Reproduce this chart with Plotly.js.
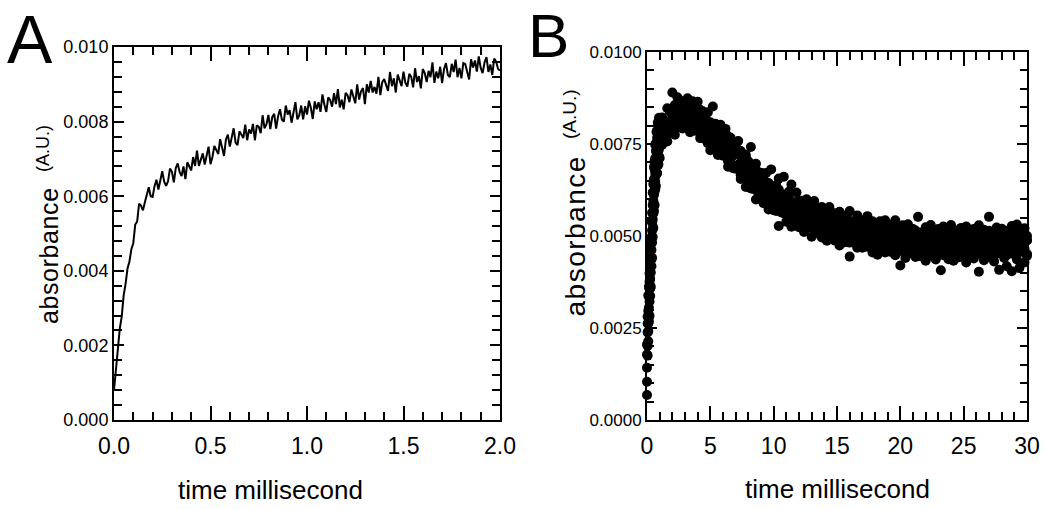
<!DOCTYPE html>
<html>
<head>
<meta charset="utf-8">
<script src="https://cdn.plot.ly/plotly-3.0.1.min.js"></script>
<style>
html,body{margin:0;padding:0;background:#fff;}
#chart{width:1050px;height:509px;}
.annotation[data-index="4"] .annotation-text{letter-spacing:0.6px;}
.annotation[data-index="6"] .annotation-text{letter-spacing:1.5px;}
</style>
</head>
<body>
<div id="chart"></div>
<script>
// ---------- Panel A: absorbance vs time (0-2 ms), line trace ----------
const timeA = [0,0.01,0.02,0.03,0.04,0.05,0.06,0.07,0.08,0.09,
0.1,0.11,0.12,0.13,0.14,0.15,0.16,0.17,0.18,0.19,
0.2,0.21,0.22,0.23,0.24,0.25,0.26,0.27,0.28,0.29,
0.3,0.31,0.32,0.33,0.34,0.35,0.36,0.37,0.38,0.39,
0.4,0.41,0.42,0.43,0.44,0.45,0.46,0.47,0.48,0.49,
0.5,0.51,0.52,0.53,0.54,0.55,0.56,0.57,0.58,0.59,
0.6,0.61,0.62,0.63,0.64,0.65,0.66,0.67,0.68,0.69,
0.7,0.71,0.72,0.73,0.74,0.75,0.76,0.77,0.78,0.79,
0.8,0.81,0.82,0.83,0.84,0.85,0.86,0.87,0.88,0.89,
0.9,0.91,0.92,0.93,0.94,0.95,0.96,0.97,0.98,0.99,
1,1.01,1.02,1.03,1.04,1.05,1.06,1.07,1.08,1.09,
1.1,1.11,1.12,1.13,1.14,1.15,1.16,1.17,1.18,1.19,
1.2,1.21,1.22,1.23,1.24,1.25,1.26,1.27,1.28,1.29,
1.3,1.31,1.32,1.33,1.34,1.35,1.36,1.37,1.38,1.39,
1.4,1.41,1.42,1.43,1.44,1.45,1.46,1.47,1.48,1.49,
1.5,1.51,1.52,1.53,1.54,1.55,1.56,1.57,1.58,1.59,
1.6,1.61,1.62,1.63,1.64,1.65,1.66,1.67,1.68,1.69,
1.7,1.71,1.72,1.73,1.74,1.75,1.76,1.77,1.78,1.79,
1.8,1.81,1.82,1.83,1.84,1.85,1.86,1.87,1.88,1.89,
1.9,1.91,1.92,1.93,1.94,1.95,1.96,1.97,1.98,1.99,
2];
const absorbanceA = [0.0008,0.00143,0.00196,0.00245,0.00277,0.00334,0.00365,0.00406,0.00425,0.00458,
0.00474,0.00524,0.00532,0.0058,0.00575,0.00562,0.00584,0.00607,0.00624,0.006,
0.00598,0.00627,0.00644,0.00618,0.00645,0.00667,0.00639,0.00628,0.0064,0.00674,
0.00666,0.00637,0.00675,0.00688,0.00665,0.00654,0.0068,0.00646,0.00691,0.00682,
0.00669,0.00705,0.00681,0.00722,0.00681,0.00698,0.00715,0.00685,0.00713,0.00733,
0.00686,0.00705,0.00735,0.00724,0.00713,0.00753,0.00728,0.00708,0.00752,0.00765,
0.00733,0.00757,0.00782,0.00744,0.00737,0.00774,0.00763,0.00756,0.00792,0.0075,
0.00779,0.00768,0.00794,0.0075,0.0079,0.00786,0.00769,0.00817,0.00782,0.00793,
0.00818,0.0078,0.00812,0.00821,0.00781,0.00814,0.00833,0.00805,0.008,0.00843,
0.00819,0.00831,0.00797,0.00827,0.00852,0.00806,0.00817,0.00843,0.00806,0.00841,
0.00819,0.00856,0.00837,0.00807,0.00854,0.00833,0.00852,0.00826,0.00873,0.00846,
0.00826,0.00865,0.00858,0.0084,0.00876,0.00847,0.00887,0.00838,0.00859,0.00833,
0.00877,0.00871,0.00852,0.00886,0.00864,0.00849,0.009,0.00859,0.00881,0.0089,
0.00847,0.009,0.00878,0.00909,0.00878,0.00893,0.00875,0.0092,0.00871,0.00906,
0.00914,0.00898,0.00882,0.00933,0.00895,0.00916,0.00878,0.00926,0.0091,0.00895,
0.00934,0.00904,0.00894,0.00928,0.0092,0.00892,0.00943,0.00906,0.00922,0.00889,
0.00941,0.0093,0.00906,0.00936,0.00919,0.00959,0.00904,0.00934,0.00916,0.00947,
0.00903,0.00941,0.00957,0.00925,0.00919,0.00955,0.00933,0.00966,0.00919,0.00944,
0.00916,0.00957,0.00954,0.00933,0.00913,0.00967,0.00945,0.00964,0.00934,0.00975,
0.00944,0.0093,0.00959,0.00973,0.00933,0.00953,0.00925,0.00969,0.00961,0.00941,
0.00937];

// ---------- Panel B: absorbance vs time (0-30 ms), scatter of many points ----------
const timeB = [0,0.05,0.1,0.15,0.2,0.25,0.3,0.35,0.4,0.45,0.5,0.55,0.6,0.65,0.7,0.75,0.8,0.85,0.9,0.95,1,
1.2,1.4,1.6,1.8,2,2.2,2.4,2.6,2.8,3,
3.2,3.4,3.6,3.8,4,4.2,4.4,4.6,4.8,5,
5.2,5.4,5.6,5.8,6,6.2,6.4,6.6,6.8,7,
7.2,7.4,7.6,7.8,8,8.2,8.4,8.6,8.8,9,
9.2,9.4,9.6,9.8,10,10.2,10.4,10.6,10.8,11,
11.2,11.4,11.6,11.8,12,12.2,12.4,12.6,12.8,13,
13.2,13.4,13.6,13.8,14,14.2,14.4,14.6,14.8,15,
15.2,15.4,15.6,15.8,16,16.2,16.4,16.6,16.8,17,
17.2,17.4,17.6,17.8,18,18.2,18.4,18.6,18.8,19,
19.2,19.4,19.6,19.8,20,20.2,20.4,20.6,20.8,21,
21.2,21.4,21.6,21.8,22,22.2,22.4,22.6,22.8,23,
23.2,23.4,23.6,23.8,24,24.2,24.4,24.6,24.8,25,
25.2,25.4,25.6,25.8,26,26.2,26.4,26.6,26.8,27,
27.2,27.4,27.6,27.8,28,28.2,28.4,28.6,28.8,29,
29.2,29.4,29.6,29.8,30];
// five readings across the noisy band at each time, from lowest to highest
const absorbanceB_1 = [0.00068,0.00175,0.00214,0.00268,0.00283,0.00337,0.00362,0.00418,0.00441,0.00497,0.00522,0.00568,0.00584,0.00627,0.00636,0.00668,0.00671,0.00697,0.00694,0.00716,0.00712,
0.00748,0.00775,0.00757,0.00783,0.00797,0.00775,0.00803,0.00814,0.00792,0.00801,
0.00811,0.00782,0.00802,0.00786,0.00801,0.00766,0.00773,0.00779,0.00752,0.00733,
0.00756,0.00744,0.0072,0.00743,0.00718,0.0072,0.00688,0.00709,0.00684,0.00683,
0.00693,0.00655,0.00662,0.00633,0.00653,0.00629,0.00634,0.00599,0.00613,0.0062,
0.00589,0.00596,0.00572,0.00592,0.0057,0.00576,0.00527,0.00564,0.00567,0.00539,
0.00546,0.00525,0.00548,0.00538,0.00524,0.00545,0.00511,0.00522,0.00528,0.00498,
0.00525,0.00508,0.00524,0.00496,0.00508,0.00487,0.00507,0.00517,0.00488,0.00494,
0.00474,0.00502,0.00483,0.00496,0.00444,0.00488,0.00496,0.00468,0.00481,0.00468,
0.00492,0.00471,0.00483,0.00455,0.00476,0.00449,0.0048,0.00465,0.00455,0.00475,
0.00457,0.00479,0.00448,0.00463,0.0042,0.00466,0.0044,0.00469,0.00454,0.0046,
0.00443,0.00468,0.00445,0.00454,0.00433,0.00462,0.00446,0.00466,0.00436,0.00457,
0.00407,0.00454,0.00467,0.00437,0.00451,0.00433,0.00458,0.00442,0.00462,0.00446,
0.00428,0.0046,0.00455,0.00439,0.00449,0.00403,0.00464,0.00434,0.00456,0.00443,
0.00461,0.00431,0.00452,0.00408,0.00459,0.0044,0.00418,0.00454,0.00404,0.0045,
0.00436,0.00413,0.00457,0.00428,0.00451];
const absorbanceB_2 = [0.00104,0.00201,0.00241,0.00282,0.00322,0.00358,0.00401,0.00436,0.00482,0.00519,0.00561,0.00586,0.00622,0.00647,0.00673,0.00692,0.00708,0.00716,0.00731,0.00737,0.00748,
0.00779,0.00783,0.00774,0.00812,0.00802,0.00817,0.00796,0.00827,0.00811,0.00818,
0.00834,0.00804,0.00816,0.0079,0.00812,0.00789,0.00796,0.00763,0.00778,0.00786,
0.00754,0.00762,0.00737,0.00758,0.00735,0.00738,0.00703,0.0072,0.0072,0.00689,
0.00692,0.00665,0.00684,0.00668,0.0065,0.00667,0.00628,0.00634,0.00635,0.00601,
0.00625,0.00603,0.00616,0.00583,0.00592,0.00568,0.00586,0.00591,0.00562,0.00565,
0.00543,0.0057,0.00548,0.0056,0.00528,0.00549,0.00555,0.00527,0.00538,0.00524,
0.00546,0.00525,0.00535,0.00507,0.00526,0.00499,0.00529,0.00513,0.00502,0.00521,
0.00502,0.00523,0.00492,0.00506,0.00482,0.00507,0.00481,0.00508,0.00493,0.00498,
0.00481,0.00504,0.00481,0.00488,0.00467,0.00495,0.00478,0.00497,0.00467,0.00487,
0.0046,0.00482,0.00494,0.00464,0.00477,0.00458,0.00482,0.00466,0.00485,0.00468,
0.00451,0.00481,0.00475,0.00459,0.00468,0.00449,0.00482,0.00452,0.00473,0.0046,
0.00478,0.00448,0.00468,0.00446,0.00475,0.00456,0.00446,0.0047,0.00446,0.00466,
0.00452,0.00446,0.00473,0.00446,0.00467,0.00459,0.00476,0.0045,0.00467,0.00473,
0.00446,0.0047,0.00479,0.00455,0.00464,0.00475,0.00448,0.00471,0.00461,0.00482,
0.00453,0.00466,0.00478,0.00457,0.00446];
const absorbanceB_3 = [0.00142,0.00238,0.00262,0.00305,0.00356,0.00384,0.00438,0.00462,0.00515,0.00545,0.00596,0.00612,0.00657,0.00672,0.00708,0.00715,0.00741,0.00739,0.00762,0.00758,0.00781,
0.00783,0.00811,0.00792,0.00808,0.00826,0.00807,0.00842,0.00831,0.00824,0.00851,
0.0082,0.00833,0.00811,0.00831,0.0081,0.00823,0.00795,0.00777,0.00798,0.00784,
0.00795,0.00759,0.0077,0.00749,0.00772,0.00738,0.00722,0.0074,0.00719,0.00722,
0.00689,0.00699,0.00678,0.00695,0.00665,0.00684,0.00643,0.0065,0.00651,0.00623,
0.00634,0.00604,0.00628,0.00605,0.00623,0.00589,0.0061,0.00576,0.00586,0.00574,
0.00586,0.00558,0.00576,0.00564,0.0058,0.00548,0.0056,0.00538,0.00564,0.0054,
0.00565,0.00538,0.00521,0.00549,0.00532,0.00548,0.00521,0.00535,0.00513,0.00527,
0.00543,0.00509,0.00513,0.00527,0.00515,0.00534,0.00497,0.00525,0.00502,0.00513,
0.00494,0.00522,0.005,0.00522,0.0049,0.00508,0.00518,0.00491,0.00516,0.00493,
0.00506,0.00513,0.00483,0.00511,0.00487,0.00494,0.00476,0.00502,0.00484,0.00477,
0.00503,0.00479,0.00469,0.00493,0.00483,0.00472,0.00498,0.00475,0.00484,0.00463,
0.00492,0.00479,0.00466,0.00487,0.005,0.0047,0.00476,0.00493,0.00464,0.00482,
0.00472,0.00497,0.00468,0.00486,0.00479,0.00461,0.0049,0.00475,0.00495,0.00467,
0.00484,0.00471,0.00499,0.00477,0.00463,0.00488,0.00474,0.00492,0.00465,0.00481,
0.0047,0.005,0.00473,0.00466,0.00489];
const absorbanceB_4 = [0.00178,0.00262,0.00296,0.00338,0.00376,0.00421,0.00463,0.00497,0.00537,0.00584,0.00617,0.00654,0.00682,0.00711,0.00731,0.00748,0.00766,0.00772,0.00786,0.00792,0.00802,
0.00819,0.00806,0.00801,0.00839,0.00833,0.00856,0.00835,0.00853,0.00835,0.00851,
0.00866,0.00834,0.00836,0.00846,0.0083,0.00843,0.00803,0.00827,0.00799,0.00806,
0.00781,0.00805,0.00777,0.00793,0.00757,0.00768,0.00771,0.00739,0.00756,0.00728,
0.00734,0.00731,0.00696,0.00714,0.00685,0.00686,0.00661,0.0068,0.00655,0.00642,
0.00663,0.00632,0.00617,0.00634,0.00619,0.00603,0.00626,0.00598,0.00604,0.00578,
0.00603,0.00587,0.00571,0.00589,0.00596,0.00565,0.00568,0.00583,0.00551,0.00566,
0.00553,0.00576,0.00544,0.0056,0.0055,0.00531,0.00557,0.0054,0.00558,0.00528,
0.00543,0.00528,0.00554,0.00531,0.00515,0.00538,0.00523,0.00539,0.00511,0.00525,
0.00513,0.00539,0.00513,0.00504,0.00526,0.00514,0.0053,0.00502,0.00508,0.00517,
0.00492,0.00522,0.00508,0.00498,0.00524,0.00493,0.00507,0.00488,0.00513,0.00497,
0.00515,0.00493,0.00482,0.00507,0.00498,0.00516,0.00485,0.00503,0.00487,0.00515,
0.00491,0.00482,0.00507,0.00493,0.00504,0.00479,0.00498,0.00485,0.00511,0.00489,
0.00514,0.00482,0.00496,0.00505,0.00484,0.00501,0.00478,0.00508,0.00492,0.00514,
0.00487,0.00512,0.00483,0.00497,0.0049,0.00506,0.00481,0.00503,0.00494,0.00514,
0.00485,0.005,0.0048,0.00509,0.00488];
const absorbanceB_5 = [0.00205,0.00281,0.00338,0.00362,0.00398,0.00455,0.00482,0.00541,0.00563,0.00618,0.00641,0.00688,0.00703,0.00748,0.00752,0.00783,0.00786,0.00808,0.00805,0.00821,0.00818,
0.00822,0.00809,0.00847,0.0084,0.0089,0.00848,0.00877,0.0085,0.00866,0.00859,
0.00874,0.00847,0.00866,0.00851,0.00865,0.0083,0.00839,0.00813,0.00836,0.00809,
0.00852,0.00799,0.00778,0.00802,0.00781,0.00791,0.00759,0.00767,0.0074,0.00748,
0.00758,0.00717,0.00714,0.00721,0.00703,0.00742,0.00673,0.00696,0.00666,0.00672,
0.00648,0.00671,0.00644,0.00681,0.00624,0.00638,0.00656,0.00615,0.00661,0.0061,
0.0062,0.0064,0.00592,0.00618,0.00591,0.00596,0.00576,0.006,0.0058,0.00571,
0.00595,0.00569,0.00557,0.00579,0.00567,0.00554,0.00579,0.00554,0.00562,0.00539,
0.00566,0.00551,0.00538,0.00557,0.00568,0.00536,0.00541,0.00556,0.00526,0.00542,
0.00531,0.00554,0.00524,0.0054,0.00532,0.00513,0.0054,0.00524,0.00543,0.00514,
0.0053,0.00516,0.00543,0.0052,0.00505,0.00529,0.00514,0.00532,0.00504,0.00519,
0.00507,0.00552,0.00509,0.00502,0.00524,0.00513,0.0053,0.00503,0.00509,0.00519,
0.00495,0.00526,0.00512,0.00503,0.0053,0.005,0.00515,0.00496,0.00522,0.00507,
0.00526,0.00504,0.00492,0.00519,0.00511,0.00529,0.00499,0.00517,0.00502,0.00552,
0.00506,0.00497,0.00523,0.00509,0.0052,0.00495,0.00514,0.00501,0.00527,0.00505,
0.00531,0.00498,0.00512,0.00521,0.005];

// ---------- Text ----------
const panelLabels = ['A', 'B'];
const xTitle = 'time millisecond';
const yTitleMain = 'absorbance';
const yTitleUnit = '(A.U.)';

const W = 1050, H = 509;
const px = v => v / W;
const py = v => 1 - v / H;
const FONT = '"Liberation Sans", Arial, Helvetica, sans-serif';

const bandY = [absorbanceB_1, absorbanceB_2, absorbanceB_3, absorbanceB_4, absorbanceB_5];

const traces = [
  {
    x: timeA, y: absorbanceA, xaxis: 'x', yaxis: 'y',
    type: 'scatter', mode: 'lines',
    line: {color: '#000', width: 2},
    hoverinfo: 'skip'
  },
  {
    x: [].concat(...bandY.map(() => timeB)),
    y: [].concat(...bandY),
    xaxis: 'x2', yaxis: 'y2',
    type: 'scatter', mode: 'markers',
    marker: {color: '#000', size: 10, line: {width: 0}},
    cliponaxis: false,
    hoverinfo: 'skip'
  }
];

function axisBase(extra) {
  return Object.assign({
    showline: true, linecolor: '#000', linewidth: 2, mirror: 'allticks',
    ticks: 'inside', tickcolor: '#000', tickwidth: 2,
    showgrid: false, zeroline: false, fixedrange: true,
    tickfont: {family: FONT, color: '#000'}
  }, extra);
}

const layout = {
  width: W, height: H,
  margin: {l: 0, r: 0, t: 0, b: 0},
  paper_bgcolor: '#fff', plot_bgcolor: '#fff',
  showlegend: false,
  font: {family: FONT, color: '#000'},
  xaxis: axisBase({
    domain: [px(114), px(500)], anchor: 'y', range: [0, 2],
    tick0: 0, dtick: 0.5, tickformat: '.1f', ticklen: 14, ticklabelstandoff: 4,
    tickfont: {family: FONT, color: '#000', size: 23},
    minor: {dtick: 0.1, ticklen: 8, tickwidth: 2, tickcolor: '#000', ticks: 'inside'}
  }),
  yaxis: axisBase({
    domain: [1 - 420 / H, 1 - 47 / H], anchor: 'x', range: [0, 0.010],
    tick0: 0, dtick: 0.002, tickformat: '.3f', ticklen: 10,
    tickfont: {family: FONT, color: '#000', size: 18},
    minor: {dtick: 0.0004, ticklen: 8, tickwidth: 2, tickcolor: '#000', ticks: 'inside'}
  }),
  xaxis2: axisBase({
    domain: [px(647), px(1027)], anchor: 'y2', range: [0, 30],
    tick0: 0, dtick: 5, tickformat: 'd', ticklen: 14, ticklabelstandoff: 4,
    tickfont: {family: FONT, color: '#000', size: 23},
    minor: {dtick: 1, ticklen: 8, tickwidth: 2, tickcolor: '#000', ticks: 'inside'}
  }),
  yaxis2: axisBase({
    domain: [1 - 420 / H, 1 - 52 / H], anchor: 'x2', range: [0, 0.0100],
    tick0: 0, dtick: 0.0025, tickformat: '.4f', ticklen: 10,
    tickfont: {family: FONT, color: '#000', size: 17},
    minor: {dtick: 0.0005, ticklen: 7, tickwidth: 2, tickcolor: '#000', ticks: 'inside'}
  }),
  annotations: [
    {text: panelLabels[0], x: px(30), y: 1, xref: 'paper', yref: 'paper', showarrow: false,
     xanchor: 'center', yanchor: 'top', borderpad: 0, font: {family: FONT, size: 68, color: '#000'}},
    {text: panelLabels[1], x: px(548), y: 1, xref: 'paper', yref: 'paper', showarrow: false,
     xanchor: 'center', yanchor: 'top', borderpad: 0, font: {family: FONT, size: 62, color: '#000'}},
    {text: xTitle, x: px(270), y: py(490), xref: 'paper', yref: 'paper', showarrow: false,
     xanchor: 'center', yanchor: 'middle', font: {family: FONT, size: 26, color: '#000'}},
    {text: xTitle, x: px(837), y: py(489), xref: 'paper', yref: 'paper', showarrow: false,
     xanchor: 'center', yanchor: 'middle', font: {family: FONT, size: 26, color: '#000'}},
    {text: yTitleMain, x: px(49), y: py(256), xref: 'paper', yref: 'paper', showarrow: false, textangle: -90,
     xanchor: 'center', yanchor: 'middle', font: {family: FONT, size: 25, color: '#000'}},
    {text: yTitleUnit, x: px(43), y: py(149), xref: 'paper', yref: 'paper', showarrow: false, textangle: -90,
     xanchor: 'center', yanchor: 'middle', font: {family: FONT, size: 18, color: '#000'}},
    {text: yTitleMain, x: px(575), y: py(236), xref: 'paper', yref: 'paper', showarrow: false, textangle: -90,
     xanchor: 'center', yanchor: 'middle', font: {family: FONT, size: 28, color: '#000'}},
    {text: yTitleUnit, x: px(569), y: py(114), xref: 'paper', yref: 'paper', showarrow: false, textangle: -90,
     xanchor: 'center', yanchor: 'middle', font: {family: FONT, size: 19, color: '#000'}}
  ]
};

Plotly.newPlot('chart', traces, layout, {staticPlot: true, displayModeBar: false});
</script>
</body>
</html>
